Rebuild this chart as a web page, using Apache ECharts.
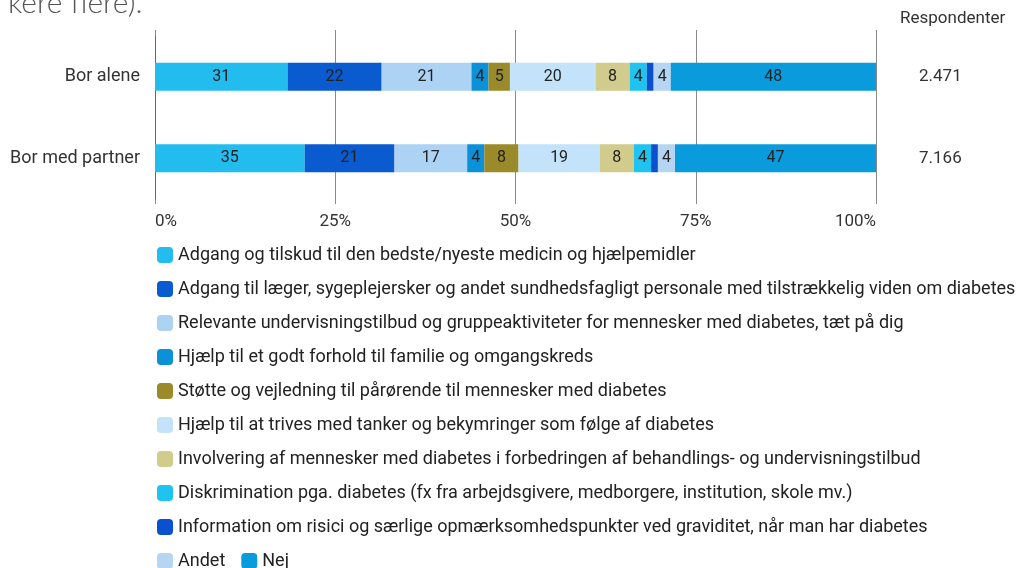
<!DOCTYPE html>
<html>
<head>
<meta charset="utf-8">
<script src="https://cdn.jsdelivr.net/npm/echarts@6/dist/echarts.min.js"></script>
<style>
  html, body { margin: 0; padding: 0; background: #ffffff; }
  #chart { width: 1016px; height: 568px; }
</style>
</head>
<body>
<div id="chart"></div>
<script>
// Categories (rows) and answer options (stacked segments)
const categories = ['Bor alene', 'Bor med partner'];
const optionNames = [
  'Adgang og tilskud til den bedste/nyeste medicin og hjælpemidler',
  'Adgang til læger, sygeplejersker og andet sundhedsfagligt personale med tilstrækkelig viden om diabetes',
  'Relevante undervisningstilbud og gruppeaktiviteter for mennesker med diabetes, tæt på dig',
  'Hjælp til et godt forhold til familie og omgangskreds',
  'Støtte og vejledning til pårørende til mennesker med diabetes',
  'Hjælp til at trives med tanker og bekymringer som følge af diabetes',
  'Involvering af mennesker med diabetes i forbedringen af behandlings- og undervisningstilbud',
  'Diskrimination pga. diabetes (fx fra arbejdsgivere, medborgere, institution, skole mv.)',
  'Information om risici og særlige opmærksomhedspunkter ved graviditet, når man har diabetes',
  'Andet',
  'Nej'
];
// Share of respondents (%) choosing each option, per row
const borAlene       = [31, 22, 21, 4, 5, 20, 8, 4, 1.6, 4, 48];
const borMedPartner  = [35, 21, 17, 4, 8, 19, 8, 4, 1.6, 4, 47];
const respondents    = [2471, 7166];
const tickLabels     = ['0%', '25%', '50%', '75%', '100%'];

const colors = [
  '#22bcee', '#0a5ad0', '#acd2f4', '#0b91d8', '#9a8a2a', '#c2e3f9',
  '#d1cb8c', '#1fc3f0', '#0a50cf', '#b6d5f2', '#0a9bdd'
];

const rows = [borAlene, borMedPartner];
const rowTotals = rows.map(r => r.reduce((a, b) => a + b, 0));

const fmtThousands = n => String(n).replace(/\B(?=(\d{3})+(?!\d))/g, '.');

const series = optionNames.map((name, i) => ({
  name: name,
  type: 'bar',
  stack: 'total',
  barWidth: 28,
  itemStyle: { color: colors[i] },
  label: {
    show: true,
    position: 'inside',
    color: '#222',
    fontSize: 16,
    fontFamily: 'Roboto',
    formatter: p => (p.data.raw >= 3 ? Math.round(p.data.raw) : '')
  },
  emphasis: { disabled: true },
  data: rows.map((r, k) => ({ value: r[i] / rowTotals[k] * 100, raw: r[i] }))
}));

const chart = echarts.init(document.getElementById('chart'), null, { renderer: 'canvas' });

const gridLineColor = '#8a8a8a';

chart.setOption({
  animation: false,
  textStyle: { fontFamily: 'Roboto' },
  grid: { left: 155, right: 140, top: 36, bottom: 369 },
  xAxis: [
    {
      type: 'value',
      min: 0, max: 100, interval: 25,
      position: 'bottom',
      axisLine: { show: false },
      axisTick: { show: true, length: 5, lineStyle: { color: gridLineColor } },
      splitLine: { show: true, lineStyle: { color: gridLineColor, width: 1 } },
      axisLabel: {
        fontSize: 17, color: '#333', margin: 14,
        formatter: v => tickLabels[Math.round(v / 25)],
        alignMinLabel: 'left', alignMaxLabel: 'right'
      }
    },
    {
      type: 'value',
      min: 0, max: 100, interval: 25,
      position: 'top',
      axisLine: { show: false },
      axisTick: { show: true, length: 6, lineStyle: { color: gridLineColor } },
      splitLine: { show: false },
      axisLabel: { show: false }
    }
  ],
  yAxis: [
    {
      type: 'category',
      data: categories,
      inverse: true,
      axisLine: { show: true, lineStyle: { color: '#666' } },
      axisTick: { show: false },
      axisLabel: { fontSize: 18, color: '#333', margin: 15 }
    },
    {
      type: 'category',
      data: respondents.map(fmtThousands),
      inverse: true,
      position: 'right',
      axisLine: { show: false },
      axisTick: { show: false },
      axisLabel: { fontSize: 17, color: '#333', margin: 43, align: 'left' }
    }
  ],
  legend: {
    left: 152,
    top: 241,
    width: 820,
    orient: 'horizontal',
    itemWidth: 16,
    itemHeight: 16,
    itemGap: 16,
    icon: 'roundRect',
    selectedMode: false,
    textStyle: { fontSize: 18, color: '#222', fontFamily: 'Roboto' },
    data: optionNames
  },
  graphic: [
    {
      type: 'text',
      left: 900,
      top: 10,
      style: { text: 'Respondenter', fontSize: 17, fill: '#333', fontFamily: 'Roboto' }
    },
    {
      type: 'text',
      left: 8,
      top: -12,
      style: { text: 'kere flere).', fontSize: 30, fill: '#555', fontFamily: 'Lato', fontWeight: 300 }
    }
  ],
  series: series
});
</script>
</body>
</html>
